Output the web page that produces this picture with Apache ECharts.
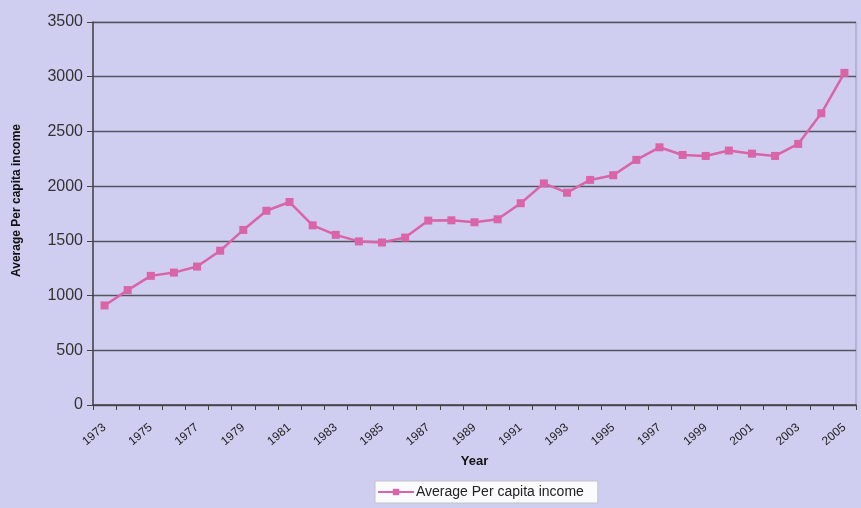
<!DOCTYPE html>
<html><head><meta charset="utf-8">
<script src="https://cdn.jsdelivr.net/npm/echarts@6/dist/echarts.min.js"></script>
<style>html,body{margin:0;padding:0;background:#cfcef0;}#c{width:861px;height:508px;}</style>
</head><body><div id="c"></div>
<script>
const years = ['1973','1974','1975','1976','1977','1978','1979','1980','1981','1982','1983','1984','1985','1986','1987','1988','1989','1990','1991','1992','1993','1994','1995','1996','1997','1998','1999','2000','2001','2002','2003','2004','2005'];
const income = [910,1050,1180,1210,1265,1410,1600,1775,1855,1642,1555,1495,1485,1530,1685,1688,1670,1697,1844,2025,1940,2057,2100,2240,2355,2285,2276,2325,2297,2276,2386,2666,3035];
const yTicks = [0,500,1000,1500,2000,2500,3000,3500];

const chart = echarts.init(document.getElementById('c'), null, {renderer:'canvas'});
const font = '"Liberation Sans", Arial, sans-serif';
chart.setOption({
  backgroundColor: '#cfcef0',
  animation: false,
  grid: {left: 93, right: 5, top: 22, bottom: 103, show: true, borderColor: '#9a9ab0', borderWidth: 1, backgroundColor: 'transparent'},
  legend: {
    bottom: 5, left: 375, itemWidth: 36, itemHeight: 8, itemGap: 4,
    backgroundColor: '#fbfbfd', borderColor: '#c0c0cc', borderWidth: 1, padding: [4, 14, 4, 2],
    textStyle: {fontFamily: font, fontSize: 14, color: '#222', padding: [0, 0, 0, -3]},
    data: [{name: 'Average Per capita income'}]
  },
  xAxis: {
    type: 'category', data: years, boundaryGap: true,
    name: 'Year', nameLocation: 'middle', nameGap: 50,
    nameTextStyle: {fontFamily: font, fontSize: 13, fontWeight: 'bold', color: '#111'},
    axisLine: {lineStyle: {color: '#444', width: 1.5}},
    axisTick: {show: true, alignWithLabel: false, interval: 0, length: 5, lineStyle: {color: '#444'}},
    axisLabel: {interval: 1, rotate: 40, fontFamily: font, fontSize: 12, color: '#222', margin: 21}
  },
  yAxis: {
    type: 'value', min: 0, max: 3500, interval: 500,
    name: 'Average Per capita income', nameLocation: 'middle', nameGap: 70,
    nameTextStyle: {fontFamily: font, fontSize: 12, fontWeight: 'bold', color: '#111', padding: [0, 0, 0, 26]},
    axisLine: {show: true, lineStyle: {color: '#444', width: 1.5}},
    axisTick: {show: true, inside: false, length: 6, lineStyle: {color: '#444'}},
    axisLabel: {fontFamily: font, fontSize: 16, color: '#333', margin: 10,
      formatter: v => yTicks.includes(v) ? String(v) : ''},
    splitLine: {show: true, lineStyle: {color: '#55555f', width: 1.3}}
  },
  series: [{
    name: 'Average Per capita income', type: 'line', data: income,
    symbol: 'rect', symbolSize: 8,
    lineStyle: {color: '#d964a8', width: 2.5},
    itemStyle: {color: '#d964a8'}
  }]
});
</script></body></html>
